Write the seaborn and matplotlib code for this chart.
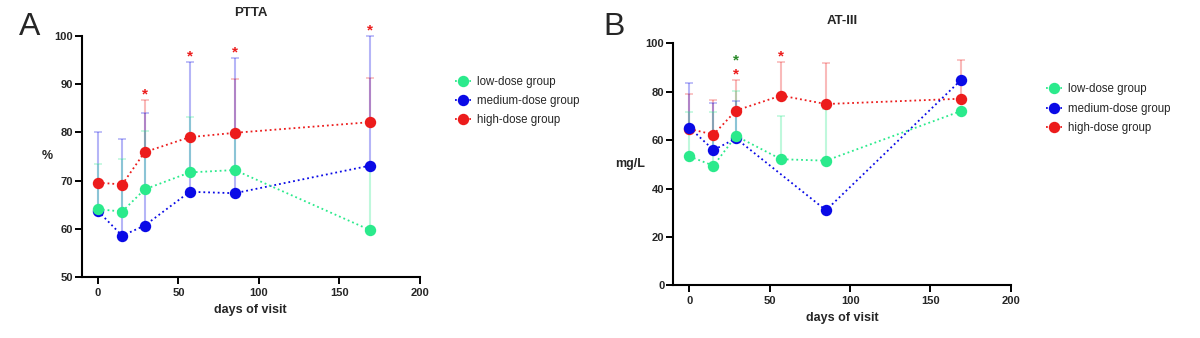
import numpy as np
import pandas as pd
import matplotlib
matplotlib.use("Agg")
import matplotlib.pyplot as plt
from matplotlib.lines import Line2D
import seaborn as sns

# ---- data -------------------------------------------------------------
days = [0, 15, 29, 57, 85, 169]
groups = ["low-dose group", "medium-dose group", "high-dose group"]

# PTTA (%)
ptta_low = [64.1, 63.6, 68.2, 71.7, 72.2, 59.8]
ptta_medium = [63.7, 58.6, 60.7, 67.7, 67.4, 73.1]
ptta_high = [69.6, 69.2, 75.9, 79.0, 79.9, 82.1]
ptta_low_sd = [9.4, 10.8, 12.1, 11.5, 8.3, 13.6]
ptta_medium_sd = [16.3, 20.0, 23.2, 26.9, 27.9, 26.9]
ptta_high_sd = [np.nan, np.nan, 10.8, np.nan, 11.1, 9.1]
ptta_sig_high = [29, 57, 85, 169]

# AT-III (mg/L)
at3_low = [53.3, 49.4, 61.7, 52.1, 51.5, 72.0]
at3_medium = [65.2, 55.9, 60.7, np.nan, 31.0, 84.8]
at3_high = [64.6, 62.3, 72.2, 78.4, 74.9, 77.1]
at3_low_sd = [18.2, 22.3, 18.7, 17.9, 21.4, np.nan]
at3_medium_sd = [18.3, 19.3, 15.6, np.nan, np.nan, np.nan]
at3_high_sd = [14.4, 14.2, 12.5, 13.7, 16.8, 16.1]
at3_sig_high = [29, 57]
at3_sig_low = [29]

# ---- style ------------------------------------------------------------
sns.set_theme(style="ticks")
plt.rcParams["font.family"] = ["Liberation Sans", "DejaVu Sans"]

colors = {"low-dose group": "#2BEA8C",
          "medium-dose group": "#0A0AE6",
          "high-dose group": "#EC1C1C"}
star_colors = {"low-dose group": "#2A8A2A", "high-dose group": "#EC1C1C"}
draw_order = ["high-dose group", "medium-dose group", "low-dose group"]
MS = 8.2


def long_frame(low, medium, high):
    parts = []
    for g, vals in zip(groups, [low, medium, high]):
        parts.append(pd.DataFrame({"day": days, "value": vals, "group": g}))
    return pd.concat(parts, ignore_index=True)


def draw_panel(ax, low, medium, high, sds, ylim, yticks, ylabel, title,
               sig, ylabel_x, title_y):
    df = long_frame(low, medium, high)
    means = dict(zip(groups, [low, medium, high]))
    sd_map = dict(zip(groups, sds))

    # upper-only SD bars, drawn under the lines
    for i, g in enumerate(draw_order):
        m = np.array(means[g], dtype=float)
        s = np.array(sd_map[g], dtype=float)
        ok = ~np.isnan(m) & ~np.isnan(s)
        d = np.array(days)[ok]
        ax.errorbar(d, m[ok], yerr=[np.zeros(ok.sum()), s[ok]],
                    fmt="none", ecolor=colors[g], alpha=0.3,
                    elinewidth=1.5, capsize=2.6, capthick=1.2,
                    zorder=2 + i, clip_on=False)

    sns.lineplot(data=df.dropna(), x="day", y="value", hue="group",
                 hue_order=draw_order, palette=colors, marker="o",
                 markersize=MS, markeredgewidth=0, linestyle=":",
                 linewidth=1.3, legend=False, ax=ax, zorder=6,
                 estimator=None, sort=True)

    # significance stars above the SD caps
    for g, xs in sig.items():
        for x in xs:
            k = days.index(x)
            tops = []
            for h in groups:
                mv = means[h][k]
                if np.isnan(mv):
                    continue
                sv = sd_map[h][k]
                tops.append(mv + (0 if np.isnan(sv) else sv))
            top = max(tops)
            extra = 0 if g == "high-dose group" else 10
            ax.annotate("*", xy=(x, top), xytext=(0, 4 + extra),
                        textcoords="offset points", ha="center", va="center",
                        color=star_colors[g], fontsize=11, fontweight="bold",
                        annotation_clip=False, zorder=10)

    ax.set_xlim(-10, 200)
    ax.set_ylim(*ylim)
    ax.set_xticks([0, 50, 100, 150, 200])
    ax.set_yticks(yticks)
    for lab in ax.get_xticklabels() + ax.get_yticklabels():
        lab.set_fontweight("bold")
    ax.tick_params(axis="both", labelsize=8, width=1.4, length=5,
                   color="black")
    ax.tick_params(axis="x", pad=3.0)
    ax.tick_params(axis="y", pad=1.5)
    sns.despine(ax=ax)
    for sp in ["left", "bottom"]:
        ax.spines[sp].set_linewidth(1.5)
        ax.spines[sp].set_color("black")

    ax.set_xlabel("days of visit", fontsize=9, fontweight="bold")
    ax.xaxis.label.set_va("center")
    ax.xaxis.set_label_coords(0.5, -0.135)
    ax.set_ylabel(ylabel, fontsize=9, fontweight="bold", rotation=0,
                  ha="center", va="center")
    ax.yaxis.set_label_coords(ylabel_x, 0.5)
    ax.text(0.5, title_y, title, transform=ax.transAxes, ha="center",
            va="center", fontsize=9.5, fontweight="bold")

    handles = [Line2D([0], [0], color=colors[g], linestyle=":", lw=1.3,
                      marker="o", markersize=MS, markeredgewidth=0)
               for g in groups]
    ax.legend(handles, groups, loc="center left",
              bbox_to_anchor=(1.105, 0.73), frameon=False, fontsize=8.3,
              handlelength=1.4, handletextpad=0.5, labelspacing=0.62,
              borderpad=0, borderaxespad=0)


fig = plt.figure(figsize=(12, 3.38), dpi=100)
ax_a = fig.add_axes([0.0683, 0.1796, 0.2814, 0.7148])
ax_b = fig.add_axes([0.5611, 0.1559, 0.2812, 0.7160])

draw_panel(ax_a, ptta_low, ptta_medium, ptta_high,
           [ptta_low_sd, ptta_medium_sd, ptta_high_sd],
           (50, 100), [50, 60, 70, 80, 90, 100], "%", "PTTA",
           {"high-dose group": ptta_sig_high}, -0.102, 1.094)
draw_panel(ax_b, at3_low, at3_medium, at3_high,
           [at3_low_sd, at3_medium_sd, at3_high_sd],
           (0, 100), [0, 20, 40, 60, 80, 100], "mg/L", "AT-III",
           {"high-dose group": at3_sig_high, "low-dose group": at3_sig_low},
           -0.128, 1.092)

fig.text(30 / 1200, 1 - 27 / 338, "A", ha="center", va="center",
         fontsize=23)
fig.text(614 / 1200, 1 - 27 / 338, "B", ha="center", va="center",
         fontsize=23)

fig.savefig("out.png", dpi=100, facecolor="white")
